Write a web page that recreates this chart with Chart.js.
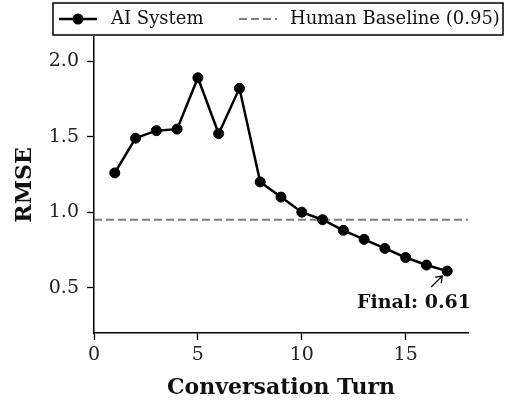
<!DOCTYPE html>
<html>
<head>
<meta charset="utf-8">
<script src="https://cdn.jsdelivr.net/npm/chart.js@4.4.0/dist/chart.umd.min.js"></script>
<style>
  html, body { margin: 0; padding: 0; background: #fff; }
  #wrap { width: 508px; height: 405px; }
</style>
</head>
<body>
<div id="wrap"><canvas id="chart"></canvas></div>
<script>
const turns = [1, 2, 3, 4, 5, 6, 7, 8, 9, 10, 11, 12, 13, 14, 15, 16, 17];
const rmse = [1.26, 1.49, 1.54, 1.55, 1.89, 1.52, 1.82, 1.20, 1.10, 1.00, 0.95, 0.88, 0.82, 0.76, 0.70, 0.65, 0.61];
const baseline = 0.95;
const xTicks = [0, 5, 10, 15];
const yTicks = [0.5, 1.0, 1.5, 2.0];
const seriesNames = ["AI System", "Human Baseline (0.95)"];

const FONT = "'DejaVu Serif', serif";

const legendAndNote = {
    id: 'legendAndNote',
    afterDraw(chart) {
        const ctx = chart.ctx;
        const xs = chart.scales.x, ys = chart.scales.y;
        ctx.save();

        // legend box
        ctx.fillStyle = '#fff';
        ctx.fillRect(53, 3, 450, 32);
        ctx.strokeStyle = '#000';
        ctx.lineWidth = 1.5;
        ctx.strokeRect(53, 3, 450, 32);

        ctx.strokeStyle = '#000';
        ctx.lineWidth = 2.5;
        ctx.beginPath();
        ctx.moveTo(59, 19);
        ctx.lineTo(97, 19);
        ctx.stroke();
        ctx.fillStyle = '#000';
        ctx.beginPath();
        ctx.arc(78, 19, 5.5, 0, Math.PI * 2);
        ctx.fill();

        ctx.font = "18px " + FONT;
        ctx.textBaseline = 'middle';
        ctx.fillStyle = '#111';
        ctx.fillText(seriesNames[0], 111, 19);

        ctx.strokeStyle = '#808080';
        ctx.lineWidth = 2;
        ctx.setLineDash([8, 4]);
        ctx.beginPath();
        ctx.moveTo(239, 19);
        ctx.lineTo(277, 19);
        ctx.stroke();
        ctx.setLineDash([]);
        ctx.fillText(seriesNames[1], 290, 19);

        // annotation for the last point
        const last = rmse.length - 1;
        const px = xs.getPixelForValue(turns[last]);
        const py = ys.getPixelForValue(rmse[last]);
        const tipX = px - 5, tipY = py + 5;
        const tailX = px - 16, tailY = py + 16;
        ctx.strokeStyle = '#000';
        ctx.lineWidth = 1.3;
        ctx.beginPath();
        ctx.moveTo(tailX, tailY);
        ctx.lineTo(tipX, tipY);
        ctx.moveTo(tipX - 7, tipY + 1);
        ctx.lineTo(tipX, tipY);
        ctx.lineTo(tipX - 1, tipY + 7);
        ctx.stroke();

        ctx.font = "bold 19px " + FONT;
        ctx.textAlign = 'center';
        ctx.fillStyle = '#111';
        ctx.fillText('Final: ' + rmse[last].toFixed(2), xs.getPixelForValue(15.4), ys.getPixelForValue(0.4));
        ctx.restore();
    }
};

new Chart(document.getElementById('chart'), {
    type: 'scatter',
    data: {
        datasets: [{
            label: seriesNames[0],
            data: turns.map((t, i) => ({ x: t, y: rmse[i] })),
            showLine: true,
            borderColor: '#000',
            backgroundColor: '#000',
            borderWidth: 2.5,
            pointRadius: 5,
            pointBorderWidth: 1,
            pointHoverRadius: 5,
            order: 1
        }, {
            label: seriesNames[1],
            data: [{ x: 0, y: baseline }, { x: 18, y: baseline }],
            showLine: true,
            borderColor: '#808080',
            borderWidth: 2,
            borderDash: [8, 4],
            pointRadius: 0,
            order: 2
        }]
    },
    options: {
        responsive: true,
        maintainAspectRatio: false,
        animation: false,
        events: [],
        layout: { padding: { top: 37, right: 40, left: 0, bottom: 0 } },
        plugins: { legend: { display: false }, tooltip: { enabled: false } },
        scales: {
            x: {
                type: 'linear',
                min: 0,
                max: 18,
                afterBuildTicks: s => { s.ticks = xTicks.map(v => ({ value: v })); },
                afterFit: s => { s.height = 72; },
                grid: { drawOnChartArea: false, drawTicks: true, tickLength: 7, tickColor: '#000', tickWidth: 1.3 },
                border: { display: true, color: '#000', width: 1.5 },
                ticks: { color: '#222', font: { family: FONT, size: 19 }, padding: 4 },
                title: { display: true, text: 'Conversation Turn', color: '#111', font: { family: FONT, size: 22, weight: 'bold' }, padding: { top: 0, bottom: 4 } }
            },
            y: {
                type: 'linear',
                min: 0.2,
                max: 2.16,
                afterBuildTicks: s => { s.ticks = yTicks.map(v => ({ value: v })); },
                afterFit: s => { s.width = 94; },
                grid: { drawOnChartArea: false, drawTicks: true, tickLength: 7, tickColor: '#000', tickWidth: 1.3 },
                border: { display: true, color: '#000', width: 1.5 },
                ticks: { color: '#222', font: { family: FONT, size: 19 }, padding: 8, callback: v => v.toFixed(1) },
                title: { display: true, text: 'RMSE', color: '#111', font: { family: FONT, size: 22, weight: 'bold' }, padding: { top: 12, bottom: 0 } }
            }
        }
    },
    plugins: [legendAndNote]
});
</script>
</body>
</html>
